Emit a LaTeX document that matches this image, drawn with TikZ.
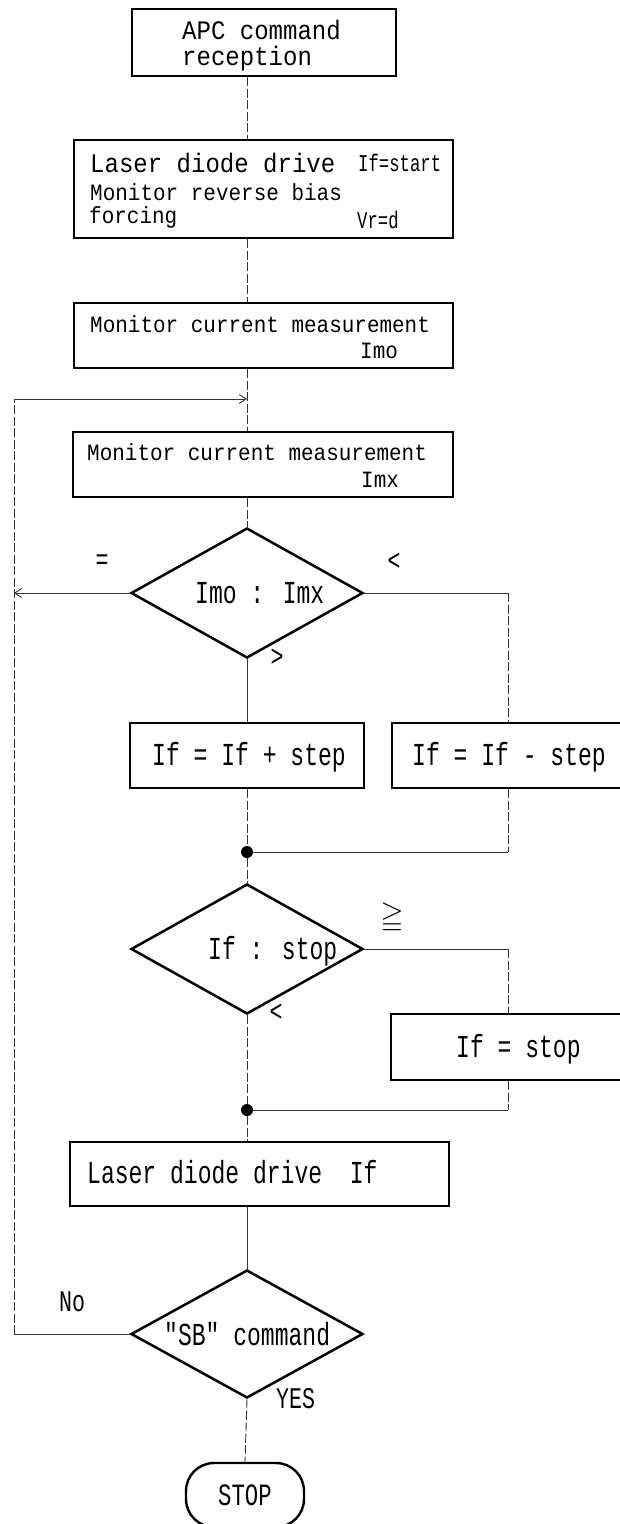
\documentclass[tikz,border=0pt]{standalone}
\usepackage{fontspec}
\usepackage{amssymb}
\usetikzlibrary{shapes.geometric,arrows.meta}
\newfontfamily\upperfont[FakeStretch=0.9]{Liberation Mono}
\newfontfamily\lowerfont[FakeStretch=0.72]{Liberation Mono}
\newcommand\fsz[1]{\fontsize{#1pt}{#1pt}\selectfont}
\begin{document}
\begin{tikzpicture}[x=1pt,y=-1pt,
  procbox/.style={draw, rectangle, line width=2.6pt, inner sep=0pt},
  decision/.style={draw, diamond, line width=2.5pt, inner sep=0pt,
    minimum width=232pt, minimum height=130pt},
  joint/.style={circle, fill, inner sep=0pt, minimum size=12pt},
  link/.style={line width=0.9pt, draw=black!80},
  brokenlink/.style={link, dash pattern=on 9pt off 2.5pt},
  barb/.style={-{Straight Barb[length=7pt,width=9pt]}},
  txtU/.style={anchor=base west, inner sep=0pt, font={\upperfont\fsz{#1}}},
  txtL/.style={anchor=base west, inner sep=0pt, font={\lowerfont\fsz{#1}}},
  mark/.style={anchor=center, inner sep=0pt, font={\lowerfont\fsz{#1}}}
]
\useasboundingbox (0,0) rectangle (619,1524);

% process boxes and decisions
\node[procbox, minimum width=264pt, minimum height=67pt] (apc) at (264,42.5) {};
\node[procbox, minimum width=379pt, minimum height=98pt] (drive) at (263.5,189) {};
\node[procbox, minimum width=379pt, minimum height=65pt] (meas0) at (263.5,335.5) {};
\node[procbox, minimum width=380pt, minimum height=65pt] (measx) at (263,464.5) {};
\node[decision] (cmp) at (247,593) {};
\node[procbox, minimum width=234pt, minimum height=65pt] (inc) at (247,755.5) {};
\node[procbox, minimum width=268pt, minimum height=65pt] (dec) at (526,755.5) {};
\node[joint] (j1) at (247,852) {};
\node[decision] (lim) at (247,949) {};
\node[procbox, minimum width=269pt, minimum height=66pt] (clamp) at (525.5,1047) {};
\node[joint] (j2) at (247,1110) {};
\node[procbox, minimum width=379pt, minimum height=64pt] (drivef) at (259.5,1174) {};
\node[decision, minimum height=128pt] (sb) at (247,1334) {};
\node[draw, line width=2.4pt, rounded corners=28pt, minimum width=118pt,
  minimum height=64pt, inner sep=0pt, font={\lowerfont\fsz{31}}] (stop) at (245,1495) {STOP};

% helper points for the return rail and the right-hand column
\coordinate (rail) at (14,399);
\coordinate (entry) at (247,399);
\coordinate (col) at (508,0);

% texts
\node[txtU=26.7] (t1a) at (182,39) {APC command};
\node[txtU=26.7] (t1b) at (182,65) {reception};
\node[txtU=26.7] (t2a) at (90,172) {Laser diode drive};
\node[txtL=24] (t2b) at (358,171) {If=start};
\node[txtU=23.3] (t2c) at (90,200) {Monitor reverse bias};
\node[txtU=23.3] (t2d) at (89,223) {forcing};
\node[txtL=24] (t2e) at (357,228) {Vr=d};
\node[txtU=23.3] (t3a) at (90,332) {Monitor current measurement};
\node[txtU=23.3] (t3b) at (360,358) {Imo};
\node[txtU=23.3] (t4a) at (87,460) {Monitor current measurement};
\node[txtU=23.3] (t4b) at (361,487) {Imx};
\node[txtL=32] (tc) at (195,603) {Imo : Imx};
\node[txtL=32] (ti) at (152,765) {If = If + step};
\node[txtL=32] (td) at (412,765) {If = If - step};
\node[txtL=32] (tl) at (208,959) {If : stop};
\node[txtL=32] (ts) at (456,1057) {If = stop};
\node[txtL=32] (tf) at (87,1183) {Laser diode drive\ \ If};
\node[txtL=32] (tsb) at (164,1345) {"SB" command};

% branch marks
\node[mark=30] (meq) at (102,562) {=};
\node[mark=30] (mlt1) at (394,562) {<};
\node[mark=30] (mgt) at (277,658) {>};
\node[mark=30] (mge) at (392,918) {$\geqq$};
\node[mark=30] (mlt2) at (276,1013) {<};
\node[txtL=30] (mno) at (59,1311) {No};
\node[txtL=30] (myes) at (276,1408) {YES};

% connectors
\draw[brokenlink] (apc.south -| cmp.center) -- (drive.north -| cmp.center);
\draw[brokenlink] (drive.south -| cmp.center) -- (meas0.north -| cmp.center);
\draw[brokenlink] (meas0.south -| cmp.center) -- (measx.north -| cmp.center);
\draw[brokenlink] (measx.south -| cmp.center) -- (cmp.north);
\draw[link, barb] (cmp.west) -- (cmp.west -| rail);
\draw[link] (cmp.east) -- (cmp.east -| col);
\draw[brokenlink] (cmp.east -| col) -- (dec.north -| col);
\draw[link] (cmp.south) -- (inc.north);
\draw[brokenlink] (inc.south) -- (j1);
\draw[brokenlink] (dec.south -| col) -- (j1 -| col);
\draw[link] (j1 -| col) -- (j1);
\draw[brokenlink] (j1) -- (lim.north);
\draw[link] (lim.east) -- (lim.east -| col);
\draw[brokenlink] (lim.east -| col) -- (clamp.north -| col);
\draw[brokenlink] (lim.south) -- (j2);
\draw[brokenlink] (clamp.south -| col) -- (j2 -| col);
\draw[link] (j2 -| col) -- (j2);
\draw[brokenlink] (j2) -- (drivef.north -| j2);
\draw[link] (drivef.south -| j2) -- (sb.north);
\draw[link] (sb.west) -- (sb.west -| rail);
\draw[brokenlink] (sb.west -| rail) -- (rail);
\draw[link, barb] (rail) -- (entry);
\draw[brokenlink] (sb.south) -- (stop.north);
\end{tikzpicture}
\end{document}
